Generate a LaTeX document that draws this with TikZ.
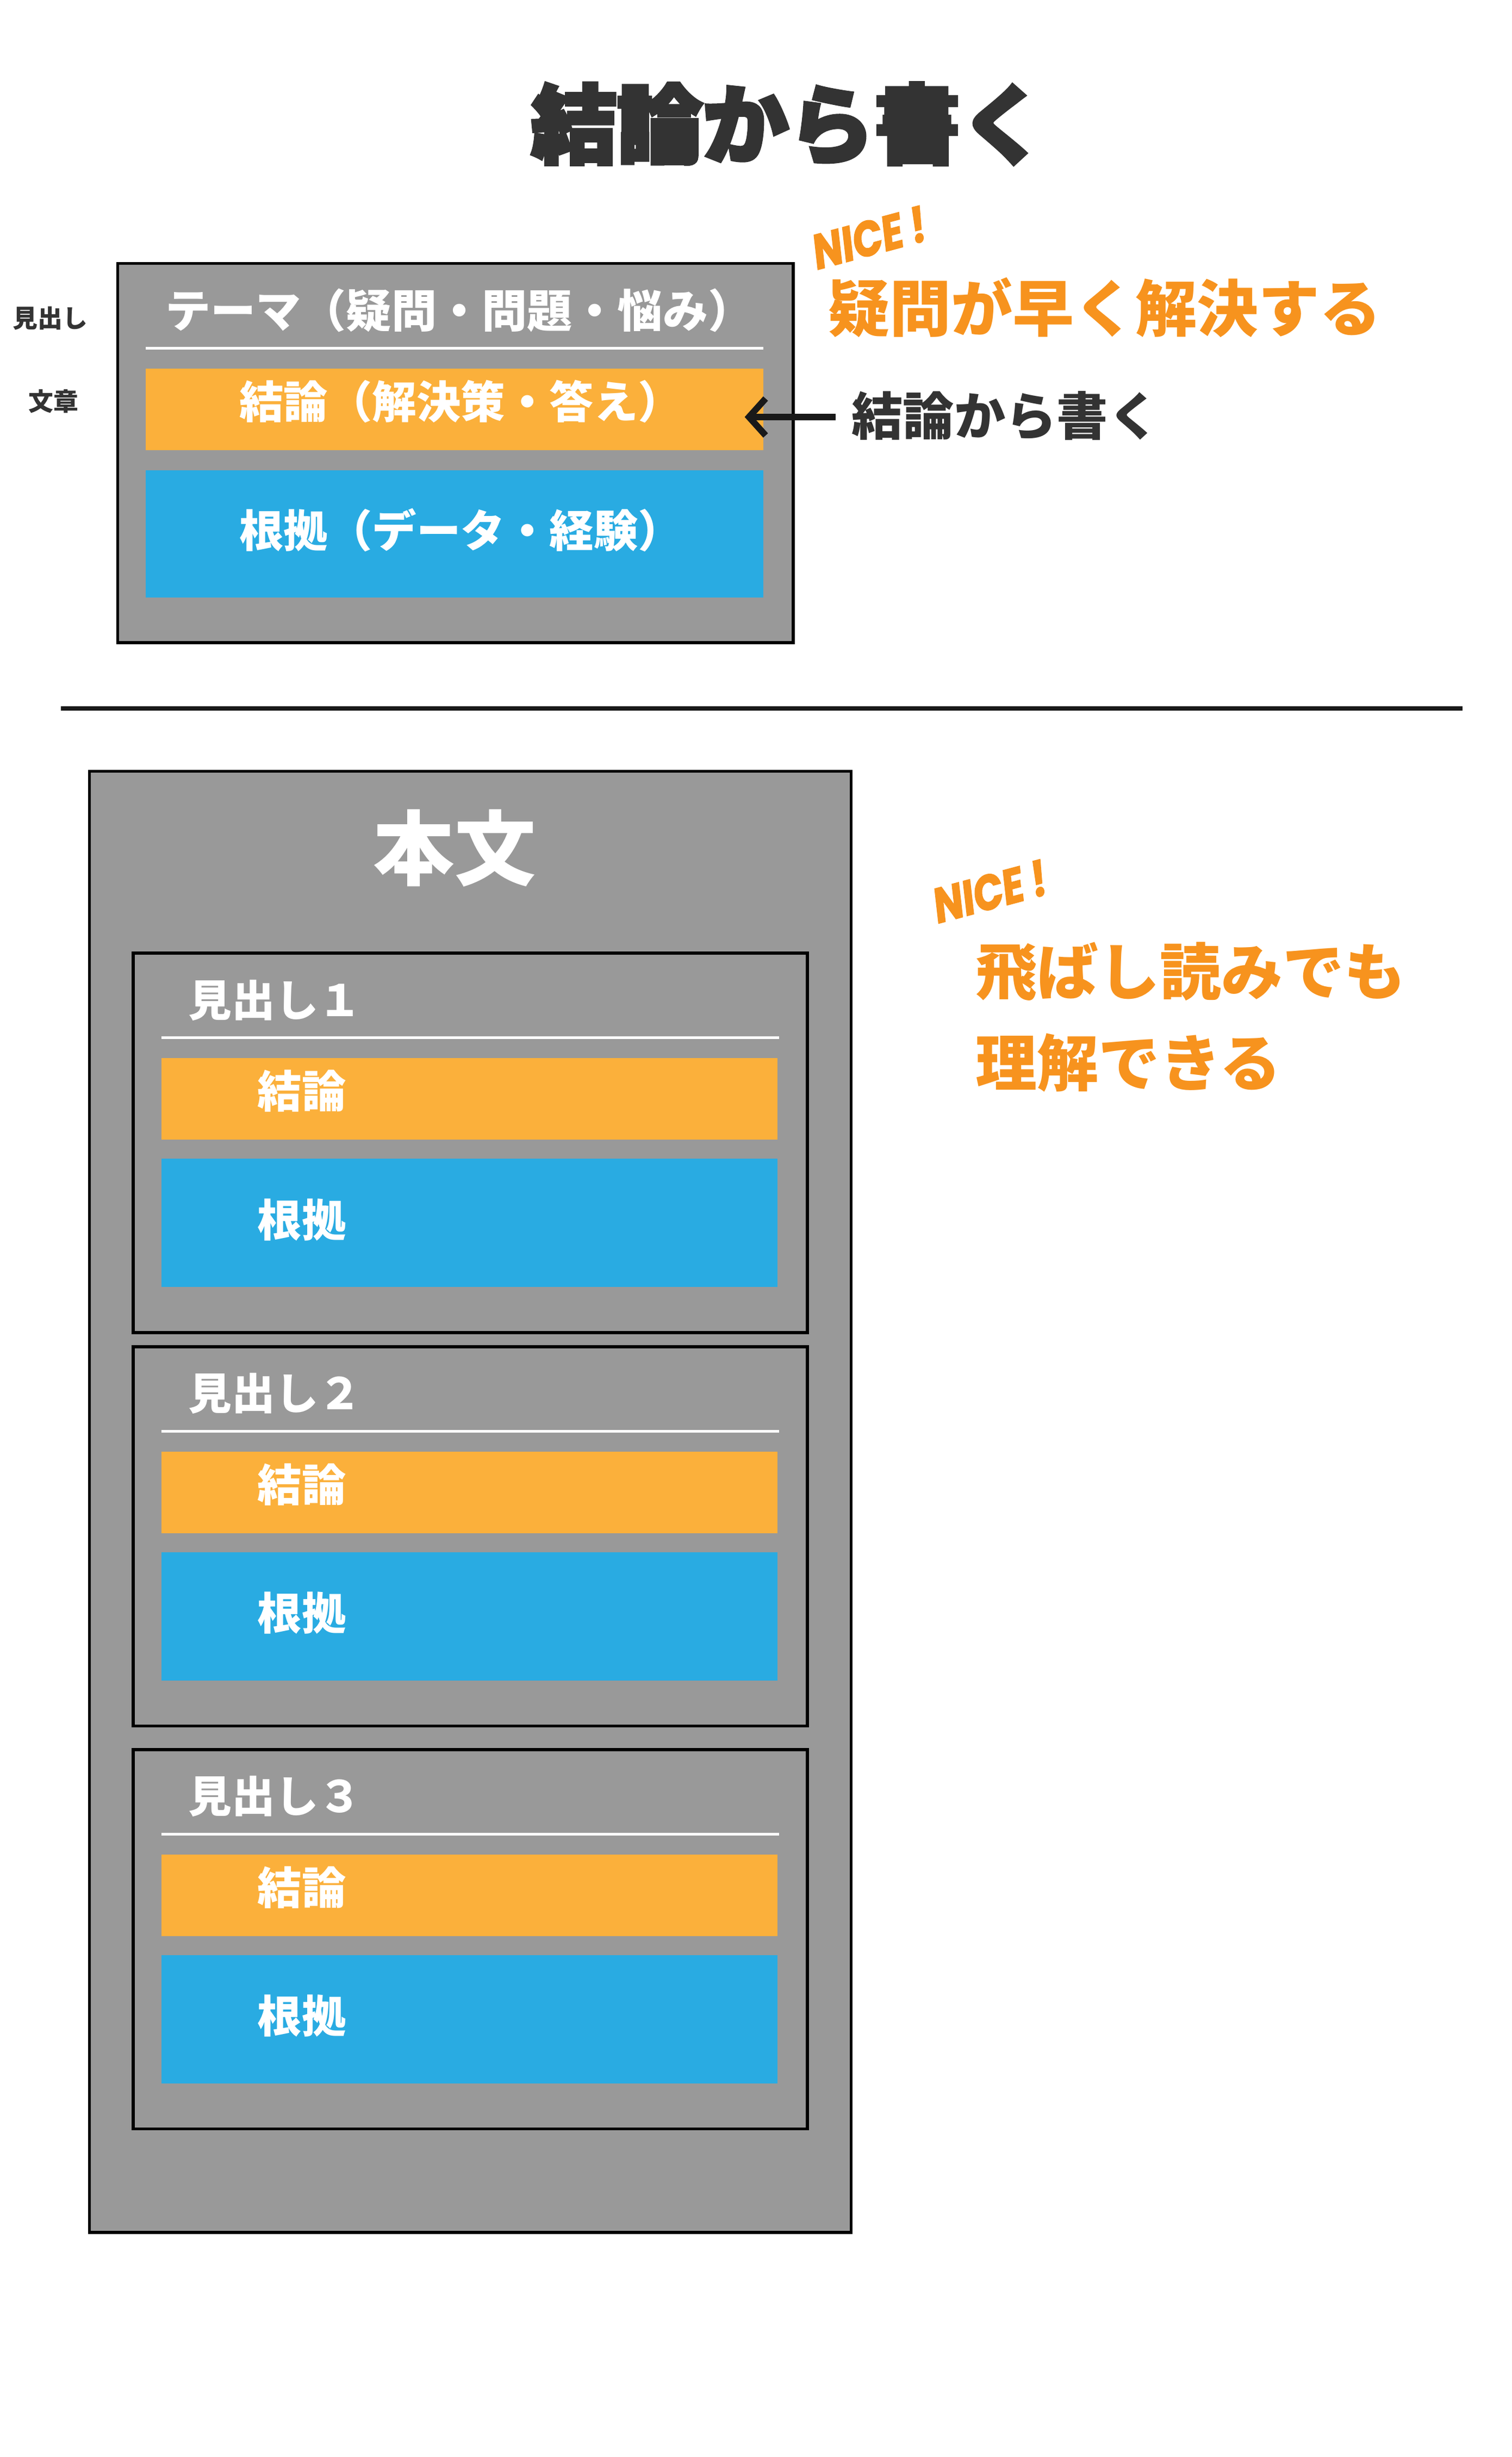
\documentclass[tikz,border=0pt]{standalone}
\usepackage{fontspec}
\usetikzlibrary{fit,arrows.meta}
\newfontfamily\jp{Noto Sans CJK JP}
\newfontfamily\jpheavy{Noto Sans CJK JP}[BoldFeatures={FakeBold=4}]
\newfontfamily\nicefont{Poppins}[FakeSlant=0.15,FakeStretch=0.8,BoldFeatures={FakeBold=2}]
\definecolor{boxgray}{HTML}{999999}
\definecolor{orbox}{HTML}{FBB03B}
\definecolor{blbox}{HTML}{29ABE2}
\definecolor{ortext}{HTML}{F7931E}
\definecolor{darktext}{HTML}{333333}
\tikzset{
  frame/.style={draw=black, line width=1.6pt, fill=boxgray, inner sep=0pt},
  obox/.style={fill=orbox, inner sep=0pt},
  bbox/.style={fill=blbox, inner sep=0pt},
  wtxt/.style={text=white, inner sep=0pt, font=\jp\bfseries\fontsize{24pt}{26pt}\selectfont},
  otxt/.style={text=ortext, inner sep=0pt, font=\jp\bfseries\fontsize{33.3pt}{36pt}\selectfont, anchor=west},
  nicetxt/.style={text=ortext, inner sep=0pt, rotate=15, font=\nicefont\bfseries\fontsize{26.5pt}{27pt}\selectfont},
  lbl/.style={text=darktext, inner sep=0pt, font=\jp\bfseries\fontsize{13.5pt}{14pt}\selectfont},
  wline/.style={draw=white, line width=1.5pt},
}
\begin{document}
\begin{tikzpicture}[x=0.029865cm, y=-0.029865cm]
\fill[white] (0,0) rectangle (28.8cm,-46.8cm);
\useasboundingbox (0,0) rectangle (28.8cm,-46.8cm);

% title
\node[text=darktext, inner sep=0pt, font=\jpheavy\bfseries\fontsize{46.5pt}{48pt}\selectfont] (title) at (503,79) {結論から書く};

% top diagram
\node[frame, fit={(75,168)(506,410)}] (topframe) {};
\node[wtxt, font=\jp\bfseries\fontsize{24.5pt}{26pt}\selectfont] (theme) at (293,198) {テーマ（疑問・問題・悩み）};
\draw[wline] (93,222) coordinate (tl1) -- (487,222) coordinate (tl2);
\node[obox, fit={(93,235)(487,287)}] (topor) {};
\node[wtxt] (toport) at (294,256) {結論（解決策・答え）};
\node[bbox, fit={(93,300)(487,381)}] (topbl) {};
\node[wtxt] (topblt) at (294,338) {根拠（データ・経験）};

\node[lbl] (lblhead) at (32,203) {見出し};
\node[lbl] (lbltext) at (34,256) {文章};

% arrow and note
\node[text=darktext, inner sep=0pt, anchor=west, font=\jp\bfseries\fontsize{27.8pt}{28pt}\selectfont] (note) at (543,265) {結論から書く};
\coordinate (arrtip) at (475,266);
\draw[line width=3.5pt, black!90, -{Straight Barb[length=9pt,width=20pt,line width=3.5pt]}] (note.west |- arrtip) ++(-10,0) coordinate (arrstart) -- (arrtip);

\node[nicetxt] (nice1) at (553,152) {NICE !};
\node[otxt] (fast) at (528,196) {疑問が早く解決する};

% separator
\draw[line width=2.4pt, black!90] (39,452) coordinate (sep1) -- (933,452) coordinate (sep2);

% body
\node[frame, fit={(57,492)(543,1424)}] (body) {};
\node[text=white, inner sep=0pt, font=\jp\bfseries\fontsize{44pt}{46pt}\selectfont] (bodyt) at (290,541) {本文};

\foreach \i/\y/\d in {1/608/１, 2/859/２, 3/1116/３}{
  \node[frame, fit={(85,\y)(515,\y+242)}] (sub\i) {};
  \node[wtxt, anchor=west, font=\jp\bfseries\fontsize{23.5pt}{25pt}\selectfont] (subh\i) at (120,\y+30) {見出し\d};
  \draw[wline] (103,\y+54) coordinate (sl\i a) -- (497,\y+54) coordinate (sl\i b);
  \node[obox, fit={(103,\y+67)(496,\y+119)}] (subo\i) {};
  \node[wtxt, anchor=west] (subot\i) at (164,\y+88) {結論};
  \node[bbox, fit={(103,\y+131)(496,\y+213)}] (subb\i) {};
  \node[wtxt, anchor=west] (subbt\i) at (164,\y+170) {根拠};
}

\node[nicetxt] (nice2) at (630,569) {NICE !};
\node[otxt] (skim1) at (622,620) {飛ばし読みでも};
\node[otxt] (skim2) at (622,678) {理解できる};
\end{tikzpicture}
\end{document}
